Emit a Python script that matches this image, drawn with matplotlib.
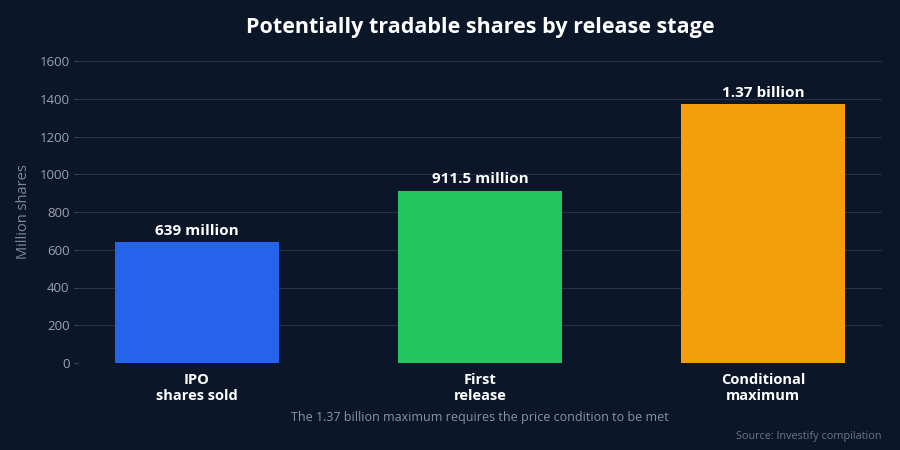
import matplotlib
matplotlib.use("Agg")
import matplotlib.pyplot as plt

categories = ["IPO\nshares sold", "First\nrelease", "Conditional\nmaximum"]
values = [639, 911.5, 1370]
value_labels = ["639 million", "911.5 million", "1.37 billion"]
colors = ["#2563eb", "#22c55e", "#f59e0b"]
yticks = [0, 200, 400, 600, 800, 1000, 1200, 1400, 1600]

plt.rcParams['font.family'] = ['Open Sans', 'DejaVu Sans']
bg = "#0b1628"
fig = plt.figure(figsize=(9, 4.5), dpi=100, facecolor=bg)
ax = fig.add_axes([78/900, 1 - 363/450, 804/900, (363-61)/450])
ax.set_facecolor(bg)
x = list(range(len(categories)))
ax.bar(x, values, width=0.58, color=colors, zorder=3)
ax.set_xlim(-0.42, 2.42)
ax.set_ylim(0, 1600)
ax.set_yticks(yticks)
ax.set_yticklabels([str(v) for v in yticks], color="#9aa3b2", fontsize=9.5)
ax.set_xticks(x)
ax.set_xticklabels(categories, color="white", fontsize=10.5, fontweight="bold", linespacing=1.2)
ax.tick_params(axis='x', length=0, pad=7)
ax.tick_params(axis='y', length=3, color="#3a4558", pad=3)
ax.grid(axis='y', color="#27324a", linewidth=0.8, zorder=0)
for s in ax.spines.values():
    s.set_visible(False)
ax.set_ylabel("Million shares", color="#7d8799", fontsize=10.5, labelpad=6)
for xi, v, lab in zip(x, values, value_labels):
    ax.annotate(lab, (xi, v), xytext=(0, 3.5), textcoords="offset points",
                ha="center", va="bottom", color="white", fontsize=11, fontweight="bold")
fig.text(480/900, 1 - 27/450, "Potentially tradable shares by release stage", ha="center", va="center",
         color="white", fontsize=15.5, fontweight="bold")
fig.text(480/900, 1 - 417/450, "The 1.37 billion maximum requires the price condition to be met",
         ha="center", va="center", color="#8a93a3", fontsize=9)
fig.text(882/900, 1 - 437/450, "Source: Investify compilation", ha="right", va="center",
         color="#6b7588", fontsize=7.8)
fig.savefig("out.png", dpi=100, facecolor=bg)
